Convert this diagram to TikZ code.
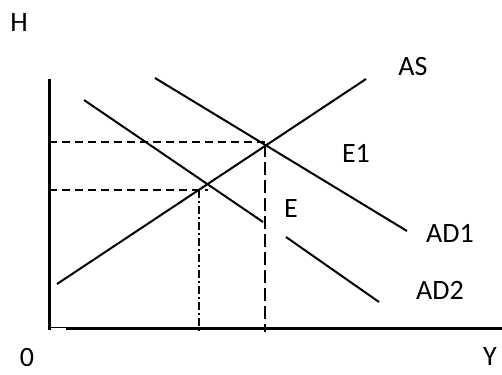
\documentclass[tikz,border=0pt]{standalone}
\usepackage{fontspec}
\setmainfont{Carlito}
\begin{document}
\begin{tikzpicture}[x=1pt,y=-1pt,
  curve/.style={line width=2pt},
  axis/.style={line width=3pt},
  guide/.style={line width=2pt, dash pattern=on 8pt off 5pt},
  guidev/.style={line width=2pt, dash pattern=on 13pt off 5pt},
  guidedd/.style={line width=2pt, dash pattern=on 8pt off 3pt on 2pt off 3pt},
  lbl/.style={inner sep=0pt, font=\fontsize{28}{32}\selectfont}]
\useasboundingbox (0,0) rectangle (502,374);
% axes
\coordinate (yt) at (49,79);
\coordinate (yb) at (49,329.5);
\coordinate (xs) at (66,328);
\coordinate (xe) at (502,328);
\coordinate (st1) at (49,327);
\coordinate (st2) at (66,327);
\draw[axis] (yt) -- (yb);
\draw[line width=1pt] (st1) -- (st2);
\draw[axis] (xs) -- (xe);
% curves
\coordinate (as1) at (57,284);
\coordinate (as2) at (366,79);
\coordinate (ad1a) at (155,78);
\coordinate (ad1b) at (407,231);
\coordinate (ad2a) at (84,100);
\coordinate (ad2b) at (263,222);
\coordinate (ad2c) at (286,237);
\coordinate (ad2d) at (379,302);
\draw[curve] (as1) -- (as2);
\draw[curve] (ad1a) -- (ad1b);
\draw[curve] (ad2a) -- (ad2b);
\draw[curve] (ad2c) -- (ad2d);
% guides
\coordinate (h1a) at (49,142);
\coordinate (h1b) at (265,142);
\coordinate (v1a) at (265,144);
\coordinate (v1b) at (265,332);
\coordinate (h2a) at (49,190);
\coordinate (h2b) at (208,190);
\coordinate (v2a) at (199,190);
\coordinate (v2b) at (199,333);
\draw[guide] (h1a) -- (h1b);
\draw[guidev] (v1a) -- (v1b);
\draw[guide] (h2a) -- (h2b);
\draw[guidedd] (v2a) -- (v2b);
% labels
\node[lbl] (H) at (19,23) {H};
\node[lbl] (AS) at (413,67) {AS};
\node[lbl] (E1) at (356,153) {E1};
\node[lbl] (E) at (291,209) {E};
\node[lbl] (AD1) at (450,233) {AD1};
\node[lbl] (AD2) at (440,290) {AD2};
\node[lbl] (O) at (27,358) {0};
\node[lbl] (Y) at (490,357) {Y};
\end{tikzpicture}
\end{document}
